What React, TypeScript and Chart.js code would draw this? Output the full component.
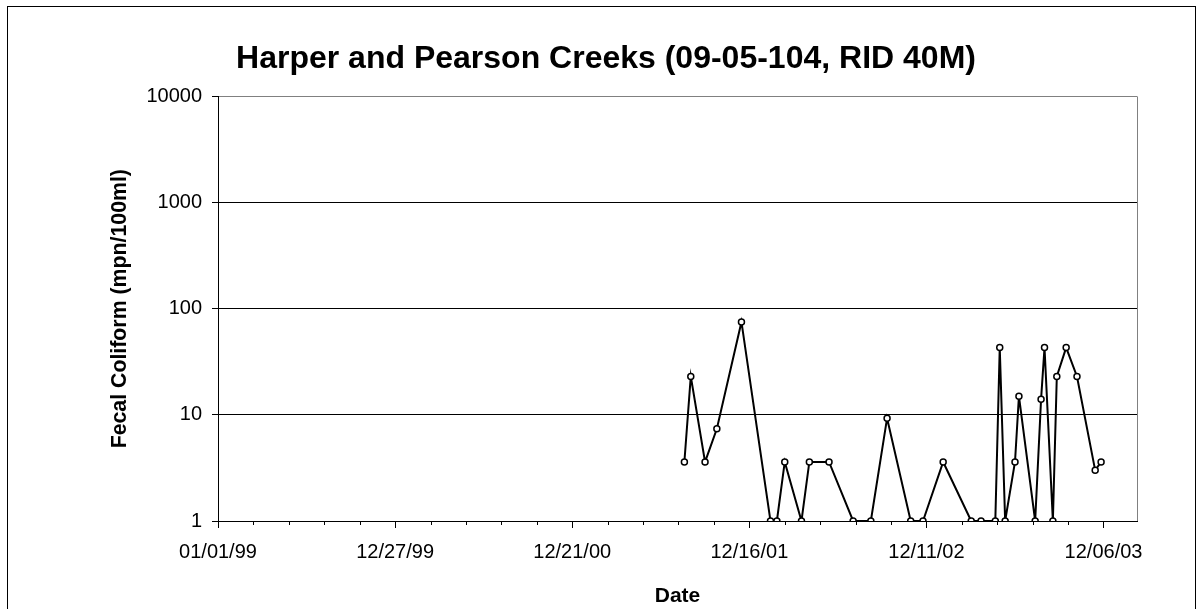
import React, { useEffect, useRef } from "react";
import { Chart, registerables } from "chart.js";

Chart.register(...registerables);

// ---- data ----
const sampleDates = [
  "2001-08-06", "2001-08-19", "2001-09-17", "2001-10-11", "2001-11-30",
  "2002-01-28", "2002-02-10", "2002-02-26", "2002-04-01", "2002-04-17",
  "2002-05-27", "2002-07-15", "2002-08-20", "2002-09-22", "2002-11-09",
  "2002-12-04", "2003-01-14", "2003-03-12", "2003-04-01", "2003-04-30",
  "2003-05-09", "2003-05-20", "2003-06-09", "2003-06-17", "2003-07-20",
  "2003-08-01", "2003-08-08", "2003-08-25", "2003-09-02", "2003-09-21",
  "2003-10-13", "2003-11-19", "2003-12-01",
];
const fecalColiform = [
  3.6, 23, 3.6, 7.4, 75,
  1, 1, 3.6, 1, 3.6,
  3.6, 1, 1, 9.3, 1,
  1, 3.6, 1, 1, 1,
  43, 1, 3.6, 15, 1,
  14, 43, 1, 23, 43,
  23, 3, 3.6,
];
const xTickDates = ["1999-01-01", "1999-12-27", "2000-12-21", "2001-12-16", "2002-12-11", "2003-12-06"];
const xTickLabels = ["01/01/99", "12/27/99", "12/21/00", "12/16/01", "12/11/02", "12/06/03"];
const xMinorPerMajor = 5;
const xAxisStart = "1999-01-01";
const xAxisEnd = "2004-02-12";
const yTicks = [1, 10, 100, 1000, 10000];

const chartTitle = "Harper and Pearson Creeks (09-05-104, RID 40M)";
const xTitle = "Date";
const yTitle = "Fecal Coliform (mpn/100ml)";

const FONT = "Arial, 'Liberation Sans', sans-serif";

function dayNumber(iso: string): number {
  const [y, m, d] = iso.split("-").map(Number);
  const [y0, m0, d0] = xAxisStart.split("-").map(Number);
  return Math.round((Date.UTC(y, m - 1, d) - Date.UTC(y0, m0 - 1, d0)) / 86400000);
}

const majorDays = xTickDates.map(dayNumber);

// gray plot-area frame on the right, plus short minor tick marks on the date axis
const plotFrame = {
  id: "plotFrame",
  afterDraw(chart: any) {
    const { ctx, chartArea } = chart;
    const xs = chart.scales.x;
    ctx.save();
    ctx.strokeStyle = "#808080";
    ctx.lineWidth = 1;
    ctx.beginPath();
    ctx.moveTo(Math.round(chartArea.right) + 0.5, chartArea.top);
    ctx.lineTo(Math.round(chartArea.right) + 0.5, chartArea.bottom);
    ctx.stroke();
    ctx.strokeStyle = "#000";
    ctx.beginPath();
    for (let i = 0; i < majorDays.length - 1; i++) {
      const step = (majorDays[i + 1] - majorDays[i]) / xMinorPerMajor;
      for (let k = 1; k < xMinorPerMajor; k++) {
        const px = Math.round(xs.getPixelForValue(majorDays[i] + step * k)) + 0.5;
        ctx.moveTo(px, chartArea.bottom);
        ctx.lineTo(px, chartArea.bottom + 4);
      }
    }
    ctx.stroke();
    ctx.restore();
  },
};

export default function App() {
  const canvasRef = useRef<HTMLCanvasElement | null>(null);

  useEffect(() => {
    if (!canvasRef.current) return;
    const points = sampleDates.map((d, i) => ({ x: dayNumber(d), y: fecalColiform[i] }));

    const chart = new Chart(canvasRef.current, {
      type: "line",
      data: {
        datasets: [
          {
            data: points,
            yAxisID: "y",
            borderColor: "#000",
            borderWidth: 2,
            pointRadius: 3,
            pointBorderWidth: 1.5,
            pointBackgroundColor: "#fff",
            pointBorderColor: "#000",
            tension: 0,
            fill: false,
          },
        ],
      },
      options: {
        animation: false,
        responsive: false,
        layout: { padding: { left: 8, right: 0, top: 0, bottom: 0 } },
        plugins: {
          legend: { display: false },
          tooltip: { enabled: false },
          title: {
            display: true,
            text: chartTitle,
            color: "#000",
            font: { family: FONT, size: 32, weight: "bold" },
            padding: { top: 40, bottom: 18 },
          },
        },
        scales: {
          x: {
            type: "linear",
            min: 0,
            max: dayNumber(xAxisEnd),
            afterBuildTicks(scale: any) {
              scale.ticks = majorDays.map((v) => ({ value: v, major: true }));
            },
            afterFit(scale: any) {
              scale.height = 88;
            },
            ticks: {
              autoSkip: false,
              maxRotation: 0,
              color: "#000",
              padding: 12,
              font: { family: FONT, size: 20 },
              callback(value: any) {
                const idx = majorDays.indexOf(Number(value));
                return idx >= 0 ? xTickLabels[idx] : "";
              },
            },
            grid: {
              drawOnChartArea: false,
              drawTicks: true,
              tickLength: 7,
              tickColor: "#000",
              tickWidth: 1,
            },
            border: { display: true, color: "#000", width: 1 },
            title: {
              display: true,
              text: xTitle,
              color: "#000",
              font: { family: FONT, size: 21, weight: "bold" },
              padding: { top: 0, bottom: 0 },
            },
          },
          y: {
            type: "logarithmic",
            position: "left",
            min: 1,
            max: 10000,
            afterBuildTicks(scale: any) {
              scale.ticks = yTicks.map((v) => ({ value: v, major: true }));
            },
            afterFit(scale: any) {
              scale.width = 210;
            },
            ticks: {
              autoSkip: false,
              color: "#000",
              padding: 10,
              font: { family: FONT, size: 20 },
              callback(value: any) {
                return String(value);
              },
            },
            grid: {
              drawOnChartArea: true,
              drawTicks: true,
              tickLength: 6,
              tickColor: "#000",
              lineWidth: 1,
              color: (ctx: any) => (ctx.tick && ctx.tick.value === 10000 ? "#808080" : "#000"),
            },
            border: { display: true, color: "#000", width: 1 },
            title: {
              display: true,
              text: yTitle,
              color: "#000",
              font: { family: FONT, size: 21.3, weight: "bold" },
              padding: { top: 99, bottom: 0 },
            },
          },
          yRight: {
            type: "linear",
            position: "right",
            display: true,
            min: 0,
            max: 1,
            afterFit(scale: any) {
              scale.width = 67;
            },
            ticks: { display: false },
            grid: { display: false, drawTicks: false },
            border: { display: false },
            title: { display: false },
          },
        },
      },
      plugins: [plotFrame],
    } as any);

    return () => chart.destroy();
  }, []);

  return (
    <div style={{ position: "fixed", left: 0, top: 0, width: 1204, height: 609, background: "#fff", overflow: "hidden" }}>
      <div
        style={{
          position: "absolute",
          left: 7,
          top: 6,
          width: 1189,
          height: 640,
          border: "1px solid #000",
          boxSizing: "border-box",
        }}
      />
      <canvas ref={canvasRef} width={1204} height={609} style={{ position: "absolute", left: 0, top: 0 }} />
    </div>
  );
}
